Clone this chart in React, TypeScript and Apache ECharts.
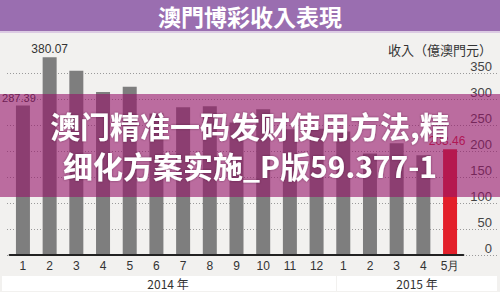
import React, { useEffect, useRef } from "react";
import * as echarts from "echarts";

const categories = ["2014-1","2014-2","2014-3","2014-4","2014-5","2014-6","2014-7","2014-8","2014-9","2014-10","2014-11","2014-12","2015-1","2015-2","2015-3","2015-4","2015-5"];
const monthLabels = ["1","2","3","4","5","6","7","8","9","10","11","12","1","2","3","4","5月"];
const revenue = [287.39, 380.07, 354.5, 313.4, 323.6, 272.2, 284.2, 286.0, 254.6, 280.3, 242.0, 243.0, 237.5, 195.4, 214.9, 191.7, 203.46];
const labelledIdx = [0, 1, 16];
const yTicks = [0, 50, 100, 150, 200, 250, 300, 350];
const years = ["2014 年", "2015 年"];
const chartTitle = "澳門博彩收入表現";
const unitLabel = "收入（億澳門元）";
const overlayLines = ["澳门精准一码发财使用方法,精", "细化方案实施_P版59.377-1"];

export default function App() {
  const ref = useRef<HTMLDivElement>(null);
  useEffect(() => {
    document.body.style.margin = "0";
    const chart = echarts.init(ref.current!, null, { renderer: "svg" });
    const font = "Liberation Sans, Arial, sans-serif";
    const cjk = "Noto Sans CJK TC, Noto Sans CJK SC, sans-serif";
    const barData = revenue.map((v, i) => {
      const isLast = i === revenue.length - 1;
      const item: any = {
        value: v,
        itemStyle: { color: isLast ? "#e3202a" : "#7e7e7e" },
      };
      if (labelledIdx.includes(i)) {
        item.label = {
          show: true,
          position: "top",
          distance: 2,
          formatter: v.toFixed(2),
          color: isLast ? "#d42035" : "#333",
          fontSize: i === 0 ? 11 : 12,
          fontFamily: font,
          offset: i === 0 ? [-4, 0] : isLast ? [-3, 0] : [0, 0],
        };
      }
      return item;
    });
    chart.setOption({
      animation: false,
      backgroundColor: "#f2f1ef",
      grid: [
        { left: 9.6, right: 36.6, top: 73, bottom: 37 },
        { left: 7, right: 3, top: 73, bottom: 37 },
      ],
      xAxis: [
        {
          type: "category",
          gridIndex: 0,
          data: categories,
          axisLine: { show: true, lineStyle: { color: "#222", width: 2 } },
          axisTick: { show: false },
          axisLabel: {
            margin: 5,
            color: "#333",
            fontSize: 12,
            fontFamily: font,
            interval: 0,
            formatter: (_v: string, idx: number) => monthLabels[idx],
          },
          z: 5,
        },
        { type: "value", gridIndex: 1, show: false, min: 0, max: 1 },
      ],
      yAxis: [
        { type: "value", gridIndex: 0, min: 0, max: 350, show: false },
        {
          type: "value",
          gridIndex: 1,
          position: "right",
          min: 0,
          max: 350,
          interval: 50,
          axisLine: { show: false },
          axisTick: { show: false },
          splitLine: { show: true, lineStyle: { color: "#9a9a9a", type: [1, 2], width: 1 } },
          axisLabel: {
            inside: true,
            margin: 5,
            color: "#444",
            fontSize: 13,
            fontFamily: font,
            verticalAlign: "bottom",
            formatter: (v: number) => (yTicks.includes(v) ? String(v) : ""),
          },
        },
      ],
      series: [
        {
          type: "bar",
          xAxisIndex: 0,
          yAxisIndex: 0,
          data: barData,
          barWidth: 14,
          clip: false,
          z: 3,
        },
      ],
      graphic: [
        { type: "rect", shape: { x: 0, y: 0, width: 500, height: 31 }, style: { fill: "#9a6eb0" }, z: 10 },
        { type: "rect", shape: { x: 0, y: 31, width: 500, height: 2 }, style: { fill: "#dccbe3" }, z: 10 },
        {
          type: "text", x: 250, y: 16, z: 11,
          style: { text: chartTitle, fill: "#fff", fontSize: 23, fontWeight: "bold", fontFamily: cjk, align: "center", verticalAlign: "middle" },
        },
        {
          type: "text", x: 492, y: 49, z: 11,
          style: { text: unitLabel, fill: "#333", fontSize: 13, fontFamily: cjk, align: "right", verticalAlign: "middle" },
        },
        { type: "rect", shape: { x: 2, y: 276, width: 334, height: 15 }, style: { fill: "#ffffff" }, z: 10 },
        { type: "rect", shape: { x: 337, y: 276, width: 160, height: 15 }, style: { fill: "#ffffff" }, z: 10 },
        {
          type: "text", x: 168, y: 283.5, z: 11,
          style: { text: years[0], fill: "#333", fontSize: 12, fontFamily: cjk, align: "center", verticalAlign: "middle" },
        },
        {
          type: "text", x: 417, y: 283.5, z: 11,
          style: { text: years[1], fill: "#333", fontSize: 12, fontFamily: cjk, align: "center", verticalAlign: "middle" },
        },
        { type: "rect", shape: { x: 0, y: 94, width: 500, height: 103 }, style: { fill: "rgba(150,20,105,0.6)" }, z: 50 },
        {
          type: "text", x: 250, y: 125, z: 51,
          style: { text: overlayLines[0], fill: "#fff", fontSize: 30, fontWeight: "bold", fontFamily: "Noto Sans CJK SC, sans-serif", align: "center", verticalAlign: "middle", textShadowColor: "rgba(60,0,40,0.5)", textShadowBlur: 2 },
        },
        {
          type: "text", x: 250, y: 165, z: 51,
          style: { text: overlayLines[1], fill: "#fff", fontSize: 30, fontWeight: "bold", fontFamily: "Noto Sans CJK SC, sans-serif", align: "center", verticalAlign: "middle", textShadowColor: "rgba(60,0,40,0.5)", textShadowBlur: 2 },
        },
      ],
    });
    return () => chart.dispose();
  }, []);
  return <div ref={ref} style={{ width: 500, height: 292 }} />;
}
